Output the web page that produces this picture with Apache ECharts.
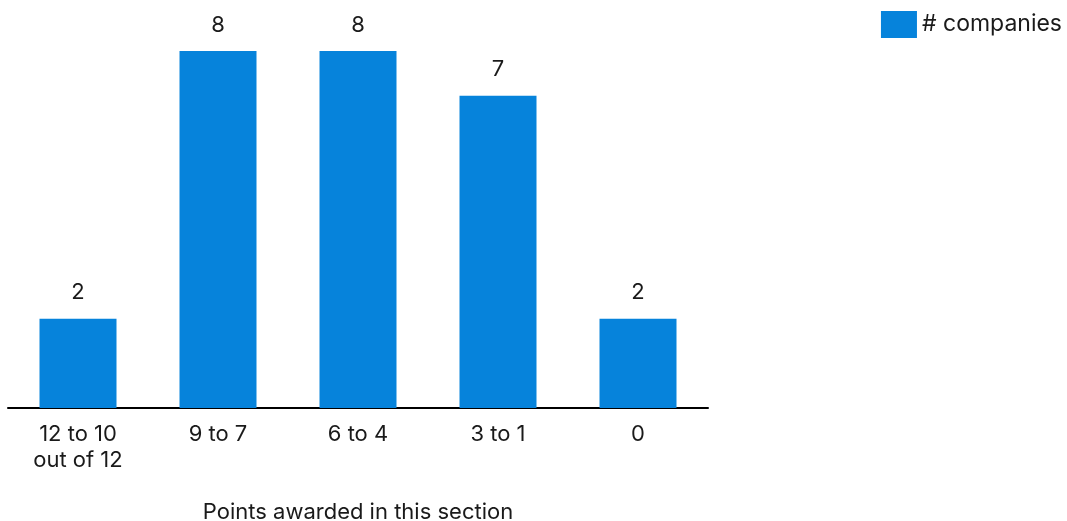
<!DOCTYPE html>
<html>
<head>
<meta charset="utf-8">
<script src="https://cdn.jsdelivr.net/npm/echarts@6/dist/echarts.min.js"></script>
<style>
  html, body { margin: 0; padding: 0; background: #fff; }
  #chart { width: 1067px; height: 521px; }
</style>
</head>
<body>
<div id="chart"></div>
<script>
// Score bands and the number of companies in each
const categories = ['12 to 10\nout of 12', '9 to 7', '6 to 4', '3 to 1', '0'];
const companies = [2, 8, 8, 7, 2];
const seriesName = '# companies';
const axisTitle = 'Points awarded in this section';

const FONT = 'Inter, "Noto Sans", sans-serif';
const BLUE = '#0683DB';
const INK = '#1a1a1a';

const chart = echarts.init(document.getElementById('chart'), null, { renderer: 'canvas' });
chart.setOption({
  animation: false,
  textStyle: { fontFamily: FONT },
  legend: {
    right: 0,
    top: 6,
    icon: 'rect',
    itemWidth: 36,
    itemHeight: 27,
    itemGap: 10,
    textStyle: { fontSize: 23, color: INK, fontFamily: FONT },
    data: [seriesName]
  },
  grid: { left: 8, right: 359, top: 51, bottom: 113, containLabel: false, outerBoundsMode: 'none' },
  xAxis: {
    type: 'category',
    data: categories,
    axisLine: { show: true, lineStyle: { color: '#000', width: 2 } },
    axisTick: { show: false },
    axisLabel: { fontSize: 22, color: INK, margin: 13, lineHeight: 26, fontFamily: FONT },
    name: axisTitle,
    nameLocation: 'middle',
    nameGap: 93,
    nameTextStyle: { fontSize: 22, color: INK, fontFamily: FONT }
  },
  yAxis: {
    type: 'value',
    min: 0,
    max: 8,
    show: false,
    splitLine: { show: false }
  },
  series: [{
    name: seriesName,
    type: 'bar',
    data: companies,
    barWidth: '55%',
    itemStyle: { color: BLUE },
    label: {
      show: true,
      position: 'top',
      distance: 15,
      fontSize: 22,
      color: INK,
      fontFamily: FONT
    }
  }]
});
</script>
</body>
</html>
